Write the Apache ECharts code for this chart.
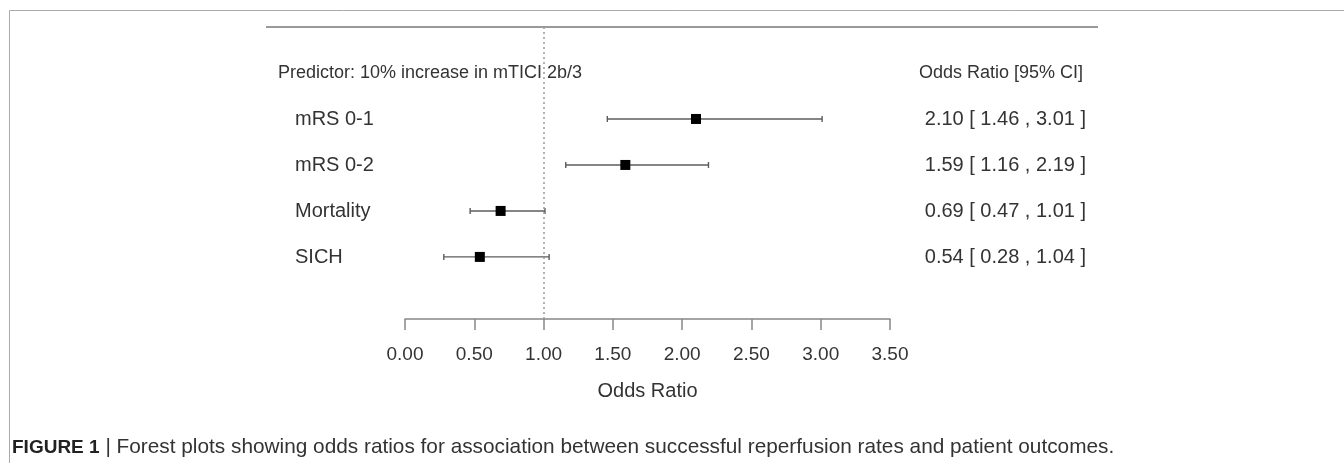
<!DOCTYPE html>
<html>
<head>
<meta charset="utf-8">
<script src="https://cdn.jsdelivr.net/npm/echarts@6/dist/echarts.min.js"></script>
<style>
  html, body { margin: 0; padding: 0; background: #fff; }
  #chart { width: 1344px; height: 463px; }
</style>
</head>
<body>
<div id="chart"></div>
<script>
const outcomes = ['mRS 0-1', 'mRS 0-2', 'Mortality', 'SICH'];
const oddsRatio = [2.10, 1.59, 0.69, 0.54];
const ciLower = [1.46, 1.16, 0.47, 0.28];
const ciUpper = [3.01, 2.19, 1.01, 1.04];
const xTicks = [0, 0.5, 1, 1.5, 2, 2.5, 3, 3.5];
const referenceValue = 1;
const headerLeft = 'Predictor: 10% increase in mTICI 2b/3';
const headerRight = 'Odds Ratio [95% CI]';
const axisTitle = 'Odds Ratio';
const captionBold = 'FIGURE 1';
const captionText = ' | Forest plots showing odds ratios for association between successful reperfusion rates and patient outcomes.';

const FONT = '"Liberation Sans", Arial, Helvetica, sans-serif';
const TEXT = '#333';
const n = outcomes.length;
const rowOf = i => n - i;
const headerRow = n + 1;
const rowValues = outcomes.map((_, i) => rowOf(i)).concat([headerRow]);

const data = outcomes.map((_, i) => [rowOf(i), ciLower[i], ciUpper[i], oddsRatio[i]]);
const fmt = v => v.toFixed(2);

const chart = echarts.init(document.getElementById('chart'), null, { renderer: 'canvas' });

chart.setOption({
  animation: false,
  backgroundColor: '#fff',
  textStyle: { fontFamily: FONT },
  grid: { left: 405, width: 485, top: 27, height: 292, containLabel: false, outerBoundsMode: 'none' },
  xAxis: {
    type: 'value',
    min: xTicks[0],
    max: xTicks[xTicks.length - 1],
    axisLine: { show: true, onZero: false, lineStyle: { color: '#888', width: 1.5 } },
    axisTick: { show: true, customValues: xTicks, length: 11, lineStyle: { color: '#888', width: 1.5 } },
    axisLabel: { customValues: xTicks, formatter: fmt, fontSize: 19, color: TEXT, margin: 26, fontFamily: FONT },
    splitLine: { show: false },
    name: axisTitle,
    nameLocation: 'middle',
    nameGap: 62,
    nameTextStyle: { fontSize: 20, color: TEXT, fontFamily: FONT }
  },
  yAxis: [
    {
      type: 'value',
      position: 'left',
      min: -0.35,
      max: 6,
      axisLine: { show: false },
      axisTick: { show: false },
      splitLine: { show: false },
      axisLabel: {
        customValues: rowValues,
        align: 'left',
        margin: 127,
        formatter: v => v === headerRow ? '{h|' + headerLeft + '}' : '{r|' + outcomes[n - v] + '}',
        rich: {
          h: { fontSize: 18, color: TEXT, fontFamily: FONT },
          r: { fontSize: 20, color: TEXT, fontFamily: FONT, padding: [2, 0, 0, 17] }
        }
      }
    },
    {
      type: 'value',
      position: 'right',
      min: -0.35,
      max: 6,
      axisLine: { show: false },
      axisTick: { show: false },
      splitLine: { show: false },
      axisLabel: {
        customValues: rowValues,
        align: 'right',
        margin: 196,
        formatter: v => {
          if (v === headerRow) return '{h|' + headerRight + '}';
          const i = n - v;
          return '{r|' + fmt(oddsRatio[i]) + ' [ ' + fmt(ciLower[i]) + ' , ' + fmt(ciUpper[i]) + ' ]}';
        },
        rich: {
          h: { fontSize: 18, color: TEXT, fontFamily: FONT, padding: [0, 3, 0, 0] },
          r: { fontSize: 20, color: TEXT, fontFamily: FONT, padding: [2, 0, 0, 0] }
        }
      }
    }
  ],
  series: [{
    type: 'custom',
    clip: false,
    data: data,
    encode: { x: [1, 2, 3], y: 0 },
    renderItem: (params, api) => {
      const y = api.value(0);
      const pLo = api.coord([api.value(1), y]);
      const pHi = api.coord([api.value(2), y]);
      const pOr = api.coord([api.value(3), y]);
      const cap = 3;
      const s = 5;
      const ls = { stroke: '#5c5c5c', lineWidth: 1.4 };
      return {
        type: 'group',
        children: [
          { type: 'line', shape: { x1: pLo[0], y1: pLo[1], x2: pHi[0], y2: pHi[1] }, style: ls },
          { type: 'line', shape: { x1: pLo[0], y1: pLo[1] - cap, x2: pLo[0], y2: pLo[1] + cap }, style: ls },
          { type: 'line', shape: { x1: pHi[0], y1: pHi[1] - cap, x2: pHi[0], y2: pHi[1] + cap }, style: ls },
          { type: 'rect', shape: { x: pOr[0] - s, y: pOr[1] - s, width: 2 * s, height: 2 * s }, style: { fill: '#000' } }
        ]
      };
    },
    markLine: {
      silent: true,
      symbol: ['none', 'none'],
      label: { show: false },
      lineStyle: { type: [2, 3], color: '#999', width: 1.5 },
      data: [{ xAxis: referenceValue }]
    }
  }],
  graphic: [
    { type: 'rect', shape: { x: 9.5, y: 10.5, width: 1400, height: 500 }, style: { fill: null, stroke: '#aaa', lineWidth: 1 }, silent: true },
    { type: 'line', shape: { x1: 266, y1: 27, x2: 1098, y2: 27 }, style: { stroke: '#999', lineWidth: 2 }, silent: true },
    {
      type: 'text', left: 12, top: 437, silent: true,
      style: {
        text: '{b|' + captionBold + '}{n|' + captionText + '}',
        rich: {
          b: { fontSize: 19, fontWeight: 'bold', fill: '#222', fontFamily: FONT },
          n: { fontSize: 20.8, fill: '#333', fontFamily: FONT }
        }
      }
    }
  ]
});
</script>
</body>
</html>
